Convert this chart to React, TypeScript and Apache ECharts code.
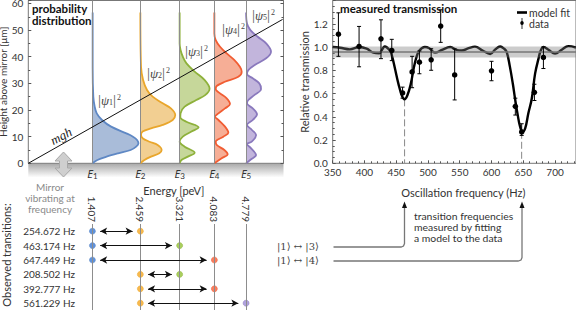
import React, { useEffect, useRef } from "react";
import * as echarts from "echarts";

const FONT = "Lato";
const energies = [1.407, 2.459, 3.321, 4.083, 4.779];
const curveColors = ["#5f88c4", "#e9a62c", "#8eb13b", "#f15d33", "#8a79bd"];
const fillColors = ["#a9bcd9", "#f2cf92", "#c6d79a", "#f6ae96", "#c2b5dc"];
const dotColors = ["#5f92dc", "#f8b94e", "#a9cf5e", "#fb7d5e", "#b0a2de"];

// [height above mirror, probability density drawn as an offset in peV]
const psi1 = [[0,0],[1.25,.11],[2.5,.31],[3.75,.56],[5,.84],[6.25,.96],[7.5,1.01],[8.75,.98],[10,.89],[11.25,.745],[13.75,.41],[16.25,.21],[18.75,.095],[21.25,.05],[25,.02],[36,.005],[56.6,.005]];
const psi2 = [[0,0],[1.25,.09],[2.5,.234],[3.75,.416],[5,.467],[6.9,.38],[8.1,.2],[9.4,.05],[10.6,.015],[11.9,.05],[13.1,.234],[14.4,.49],[16.25,.71],[18.1,.766],[20.6,.67],[22.5,.49],[25,.27],[27.5,.146],[31.25,.06],[36.25,.015],[56.6,0]];
const psi3 = [[0,0],[1.25,.04],[2.5,.18],[4,.33],[6.25,.11],[8.1,0],[10,.07],[11.9,.26],[13.5,.416],[15.6,.146],[17.25,.015],[18.75,.02],[21.25,.11],[23.75,.365],[25.6,.56],[28,.657],[31.25,.55],[34.4,.33],[37.5,.15],[40,.07],[42.5,.02],[45,0],[56.6,0]];
const psi4 = [[0,0],[1.9,.16],[3.4,.292],[5,.219],[6.9,.05],[8.1,.03],[10,.197],[11.5,.307],[13.75,.234],[16.25,.09],[17.5,.015],[18.75,.09],[20.6,.234],[22.25,.343],[24.4,.27],[26.25,.125],[27.75,.03],[29,.05],[30.6,.23],[32.5,.526],[34.4,.6],[36.25,.56],[38.75,.44],[41.25,.27],[43.75,.125],[46.25,.03],[48.75,0],[56.6,0]];
const psi5 = [[0,0],[1.5,.11],[3.1,.22],[5.6,.11],[7.25,.02],[8.1,.124],[10.6,.22],[12.6,.124],[14.4,.02],[16.25,.146],[18.4,.24],[20.6,.146],[22.5,.02],[23.75,.05],[25.6,.18],[27.9,.328],[30,.29],[31.9,.146],[33.5,.02],[35,.05],[36.9,.19],[39.4,.44],[41.9,.547],[45,.44],[47.5,.255],[50,.095],[52.5,.02],[56.6,0]];
const psiCurves = [psi1, psi2, psi3, psi4, psi5];
const potentialLine = [[0, 0], [5.58, 54]];

const transitionLabels = ["254.672 Hz", "463.174 Hz", "647.449 Hz", "208.502 Hz", "392.777 Hz", "561.229 Hz"];
const transitionLevels = [[0, 1], [0, 2], [0, 3], [1, 2], [1, 3], [1, 4]];

const fitLine = [[350,1.0],[361.5,.994],[377,.98],[392,1.0],[403.5,.986],[414,.952],[423,.947],[432,1.005],[440,.97],[443,.93],[448,.815],[453.4,.685],[458.7,.585],[463,.55],[467.6,.585],[473,.685],[478,.83],[482,.915],[486.5,.97],[495,1.0],[502,.99],[511,.952],[522,.975],[535,1.0],[545,.975],[553,.97],[564,.99],[574,1.003],[586,.97],[598,.94],[606,.98],[613.5,1.005],[620,.985],[624,.957],[629,.829],[633.5,.686],[637,.557],[641.3,.414],[645,.314],[648.7,.271],[653,.30],[658,.43],[663.4,.557],[668.6,.771],[674,.90],[677.5,.97],[681.8,1.0],[689.6,.977],[700,.943],[710.6,.977],[721,1.008],[733,.995]];
const dataFreq = [359, 391.5, 426, 443, 460, 475, 486.5, 505, 520, 542, 600, 637.5, 647.5, 667.5, 681.7];
const dataValue = [1.11, 1.005, 1.07, .97, .605, .786, .87, .89, 1.18, .76, .795, .49, .27, .61, .91];
const dataLow = [.92, .83, .90, .883, .56, .65, .77, .80, 1.04, .545, .71, .415, .24, .54, .815];
const dataHigh = [1.294, 1.177, 1.234, 1.066, .655, .92, .966, .985, 1.32, .983, .877, .56, .34, .68, 1.0];
const band = [.909, 1.005];
const bandCenter = .957;
const dipFrequencies = [[463.174, .55], [647.449, .271]];

const ink = "#333";
const psiLabel = (n: number) => `{b||}{p|ψ}{s|${n}}{b||}{u|2}`;
const psiRich = {
  b: { fontFamily: "Liberation Serif", fontSize: 15, fill: "#555", color: "#555" },
  p: { fontFamily: "Liberation Serif", fontStyle: "italic", fontSize: 13, fill: "#444", color: "#444" },
  s: { fontFamily: "Liberation Serif", fontSize: 8, fill: "#444", color: "#444", padding: [5, 0, 0, 0] },
  u: { fontFamily: "Liberation Serif", fontSize: 8, fill: "#444", color: "#444", padding: [0, 0, 6, 1] },
};
const txt = (x: number, y: number, text: string, extra: any = {}) => ({
  type: "text", x, y, silent: true, z: 50,
  style: { text, fontFamily: FONT, fontSize: 11, fill: ink, textVerticalAlign: "middle", verticalAlign: "middle", ...extra },
});
const psiPos = [[98, 100], [147, 73], [185, 51], [222, 29], [252, 15]];

function buildOption() {
  const series: any[] = [];
  psiCurves.forEach((curve, i) => {
    const pts = curve.map(([h, a]) => [energies[i] + a, h]);
    series.push({
      type: "custom", name: `fill${i}`, xAxisIndex: 0, yAxisIndex: 0, data: pts, silent: true, z: 2,
      renderItem: (p: any, api: any) => {
        if (p.dataIndex !== 0) return null as any;
        const poly = pts.map((q) => api.coord(q));
        return { type: "polygon", shape: { points: poly }, style: { fill: fillColors[i] } };
      },
    });
  });
  series.push({
    type: "line", name: "levels", xAxisIndex: 0, yAxisIndex: 0, data: [], silent: true, z: 3,
    markLine: {
      silent: true, symbol: "none", label: { show: false }, animation: false,
      lineStyle: { color: "#8d8d8d", width: 1, type: "solid" },
      data: energies.map((e) => ({ xAxis: e })),
    },
  });
  psiCurves.forEach((curve, i) => {
    series.push({
      type: "line", name: `psi${i + 1}`, xAxisIndex: 0, yAxisIndex: 0, showSymbol: false, symbol: "none", smooth: 0.35, z: 4,
      data: curve.map(([h, a]) => [energies[i] + a, h]),
      lineStyle: { color: curveColors[i], width: 1.8 },
    });
  });
  series.push({
    type: "line", name: "mgh", xAxisIndex: 0, yAxisIndex: 0, showSymbol: false, symbol: "none", z: 5,
    data: potentialLine, lineStyle: { color: "#111", width: 1 },
  });

  // right panel
  series.push({
    type: "line", name: "model fit", xAxisIndex: 1, yAxisIndex: 2, showSymbol: false, symbol: "none", smooth: 0.4, z: 3,
    data: fitLine, lineStyle: { color: "#000", width: 2.4 }, itemStyle: { color: "#000" },
  });
  series.push({
    type: "custom", name: "band", xAxisIndex: 1, yAxisIndex: 2, data: [[350, band[0]]], silent: true, z: 6,
    renderItem: (p: any, api: any) => {
      const a = api.coord([350, band[1]]);
      const b = api.coord([733, band[0]]);
      return { type: "rect", shape: { x: a[0], y: a[1], width: b[0] - a[0], height: b[1] - a[1] }, style: { fill: "rgba(120,120,120,0.38)" } };
    },
  });
  series.push({
    type: "line", name: "center", xAxisIndex: 1, yAxisIndex: 2, showSymbol: false, symbol: "none", z: 7, silent: true,
    data: [[350, bandCenter], [733, bandCenter]], lineStyle: { color: "#777", width: 1.5 },
  });
  dipFrequencies.forEach(([f, v], i) => {
    series.push({
      type: "line", name: `dip${i}`, xAxisIndex: 1, yAxisIndex: 2, showSymbol: false, symbol: "none", z: 2, silent: true,
      data: [[f, v], [f, 0]], lineStyle: { color: "#888", width: 1, type: [7, 3] },
    });
  });
  series.push({
    type: "custom", name: "data", xAxisIndex: 1, yAxisIndex: 2, z: 8, silent: true,
    data: dataFreq.map((f, i) => [f, dataLow[i], dataHigh[i]]),
    encode: { x: 0, y: [1, 2] }, itemStyle: { color: "#000" },
    renderItem: (p: any, api: any) => {
      const f = api.value(0);
      const lo = api.coord([f, api.value(1)]);
      const hi = api.coord([f, api.value(2)]);
      const st = { stroke: "#000", lineWidth: 1, fill: "none" };
      return {
        type: "group",
        children: [
          { type: "line", shape: { x1: lo[0], y1: lo[1], x2: hi[0], y2: hi[1] }, style: st },
          { type: "line", shape: { x1: lo[0] - 2, y1: lo[1], x2: lo[0] + 2, y2: lo[1] }, style: st },
          { type: "line", shape: { x1: hi[0] - 2, y1: hi[1], x2: hi[0] + 2, y2: hi[1] }, style: st },
        ],
      };
    },
  });
  series.push({
    type: "scatter", name: "data", xAxisIndex: 1, yAxisIndex: 2, z: 9, symbolSize: 5.5, silent: true,
    data: dataFreq.map((f, i) => [f, dataValue[i]]), itemStyle: { color: "#000", opacity: 1 },
  });

  // bottom panel
  series.push({
    type: "scatter", name: "levelLines", xAxisIndex: 2, yAxisIndex: 3, data: [], silent: true, z: 1,
    markLine: {
      silent: true, symbol: "none", label: { show: false }, animation: false,
      lineStyle: { color: "#8d8d8d", width: 1, type: "solid" },
      data: energies.map((e) => ({ xAxis: e })),
    },
  });
  const arrowGap = 0.17;
  series.push({
    type: "scatter", name: "arrows", xAxisIndex: 2, yAxisIndex: 3, data: [], silent: true, z: 2,
    markLine: {
      silent: true, symbol: ["arrow", "arrow"], symbolSize: [5.5, 7], label: { show: false }, animation: false,
      lineStyle: { color: "#111", width: 1, type: "solid" },
      data: transitionLevels.map(([a, b], r) => [
        { coord: [energies[a] + arrowGap, transitionLabels[r]] },
        { coord: [energies[b] - arrowGap, transitionLabels[r]] },
      ]),
    },
  });
  [0, 1, 2, 3, 4].forEach((lvl) => {
    const rows: any[] = [];
    transitionLevels.forEach((t, r) => {
      if (t.includes(lvl)) rows.push([energies[lvl], transitionLabels[r]]);
    });
    series.push({
      type: "scatter", name: `dots${lvl}`, xAxisIndex: 2, yAxisIndex: 3, data: rows, symbolSize: 6, z: 4, silent: true,
      itemStyle: { color: dotColors[lvl], borderColor: curveColors[lvl], borderWidth: 0.5, opacity: 1 },
    });
  });

  const axisLabel = { fontFamily: FONT, fontSize: 10, color: ink };
  const tick = (length: number, split: number) => ({
    axisTick: { show: true, inside: true, length, lineStyle: { color: "#555", width: 1 } },
    minorTick: { show: true, splitNumber: split, length: length - 1, lineStyle: { color: "#555", width: 1 } },
  });
  const noSplit = { splitLine: { show: false }, minorSplitLine: { show: false } };

  return {
    animation: false,
    backgroundColor: "#fff",
    textStyle: { fontFamily: FONT },
    legend: {
      orient: "vertical", left: 512, top: 2, itemWidth: 10, itemHeight: 11, itemGap: 0,
      selectedMode: false,
      textStyle: { fontFamily: FONT, fontSize: 10.5, color: ink, padding: [0, 0, 0, -3] },
      data: [
        { name: "model fit", icon: "path://M0 4.2H10V6.8H0z" },
        { name: "data", icon: "path://M4.6 0H5.4V2.9A2.3 2.3 0 0 1 5.4 7.1V11H4.6V7.1A2.3 2.3 0 0 1 4.6 2.9z" },
      ],
    },
    grid: [
      { outerBoundsMode: "none", containLabel: false, left: 28.3, top: 0.5, width: 255.2, height: 162.8, show: true, borderColor: "#777", borderWidth: 1, backgroundColor: "transparent" },
      { outerBoundsMode: "none", containLabel: false, left: 332.7, top: 0.5, width: 243.3, height: 162.8, show: true, borderColor: "#777", borderWidth: 1, backgroundColor: "transparent" },
      { outerBoundsMode: "none", containLabel: false, left: 80, top: 224, width: 204, height: 86.4 },
    ],
    xAxis: [
      {
        type: "value", gridIndex: 0, min: 0, max: 5.6, ...noSplit,
        name: "Energy [peV]", nameLocation: "middle", nameGap: 16,
        nameTextStyle: { fontFamily: FONT, fontSize: 11, color: ink, padding: [0, 0, 0, 36] },
        axisLine: { show: false }, axisTick: { show: false },
        axisLabel: {
          customValues: energies, margin: 4, color: ink,
          formatter: (v: number) => `{e|E}{s|${energies.indexOf(v) + 1}}`,
          rich: {
            e: { fontFamily: "Noto Sans", fontStyle: "italic", fontSize: 11, color: ink },
            s: { fontFamily: FONT, fontSize: 8, color: ink, padding: [5, 0, 0, 0] },
          },
        },
      },
      {
        type: "value", gridIndex: 1, min: 350, max: 733, interval: 50, ...noSplit, ...tick(3, 5),
        name: "Oscillation frequency (Hz)", nameLocation: "middle", nameGap: 24,
        nameTextStyle: { fontFamily: FONT, fontSize: 11, color: ink, padding: [0, 0, 0, 18] },
        axisLine: { show: false },
        axisLabel: { ...axisLabel, margin: 4, showMaxLabel: false },
      },
      {
        type: "value", gridIndex: 2, position: "top", min: 80 / 45.57 - 28.3 / 45.57, max: (284 - 28.3) / 45.57, ...noSplit,
        axisLine: { show: false }, axisTick: { show: false },
        axisLabel: { ...axisLabel, customValues: energies, rotate: 90, margin: 2, formatter: (v: number) => v.toFixed(3) },
      },
    ],
    yAxis: [
      {
        type: "value", gridIndex: 0, min: 0, max: 61.1, interval: 10, ...noSplit, ...tick(3, 2),
        name: "Height above mirror [μm]", nameLocation: "middle", nameGap: 18, nameRotate: 90,
        nameTextStyle: { fontFamily: FONT, fontSize: 10, color: ink },
        axisLine: { show: false },
        axisLabel: { ...axisLabel, margin: 5, showMaxLabel: false },
      },
      {
        type: "value", gridIndex: 0, position: "right", min: 0, max: 61.1, interval: 10, ...noSplit, ...tick(3, 2),
        axisLine: { show: false }, axisLabel: { show: false },
      },
      {
        type: "value", gridIndex: 1, min: 0, max: 1.4, interval: 0.2, ...noSplit, ...tick(3, 4),
        name: "Relative transmission", nameLocation: "middle", nameGap: 23, nameRotate: 90,
        nameTextStyle: { fontFamily: FONT, fontSize: 11, color: ink },
        axisLine: { show: false },
        axisLabel: { ...axisLabel, margin: 5, showMaxLabel: false, formatter: (v: number) => v.toFixed(1) },
      },
      {
        type: "category", gridIndex: 2, inverse: true, data: transitionLabels, ...noSplit,
        axisLine: { show: false }, axisTick: { show: false },
        axisLabel: { ...axisLabel, margin: 5 },
      },
    ],
    series,
    graphic: {
      elements: [
        {
          type: "rect", z: -1, silent: true, shape: { x: 28.3, y: 163.5, width: 255.2, height: 14 },
          style: { fill: new echarts.graphic.LinearGradient(0, 0, 0, 1, [{ offset: 0, color: "#a9a9a9" }, { offset: 1, color: "#ffffff" }]) },
        },
        {
          type: "polygon", z: 40, silent: true,
          shape: { points: [[63.5, 152], [72, 161], [67.5, 161], [67.5, 168], [72, 168], [63.5, 177], [55, 168], [59.5, 168], [59.5, 161], [55, 161]] },
          style: { fill: "#cfcfcf", stroke: "#a8a8a8", lineWidth: 1 },
        },
        txt(32, 8, "probability", { fontWeight: "bold", fontSize: 11.5, fill: "#111" }),
        txt(32, 20, "distribution", { fontWeight: "bold", fontSize: 11.5, fill: "#111" }),
        txt(340, 8, "measured transmission", { fontWeight: "bold", fontSize: 11.5, fill: "#111" }),
        { ...txt(61, 136, "mgh", { fontFamily: "Liberation Serif", fontStyle: "italic", fontSize: 13, fill: "#222", align: "center" }), rotation: 0.48 },
        ...psiPos.map(([x, y], i) => txt(x, y, psiLabel(i + 1), { rich: psiRich })),
        txt(50, 186.7, "Mirror", { fill: "#8a8a8a", align: "center", fontSize: 10 }),
        txt(50, 198, "vibrating at", { fill: "#8a8a8a", align: "center", fontSize: 10 }),
        txt(50, 209.3, "frequency", { fill: "#8a8a8a", align: "center", fontSize: 10 }),
        { ...txt(6, 255, "Observed transitions:", { align: "center" }), rotation: Math.PI / 2 },
        txt(277, 246.5, "|1⟩ ↔ |3⟩", { fontFamily: "DejaVu Serif", fontSize: 10, fill: "#444" }),
        txt(277, 260.5, "|1⟩ ↔ |4⟩", { fontFamily: "DejaVu Serif", fontSize: 10, fill: "#444" }),
        txt(414, 216, "transition frequencies", { fontSize: 10.4 }),
        txt(414, 227, "measured by fitting", { fontSize: 10.4 }),
        txt(414, 238, "a model to the data", { fontSize: 10.4 }),
        {
          type: "polyline", z: 40, silent: true,
          shape: { points: [[333.5, 247], [401, 247], [403.5, 246], [404.5, 243.5], [404.5, 206]] },
          style: { stroke: "#777", lineWidth: 1.3, fill: "none" },
        },
        {
          type: "polyline", z: 40, silent: true,
          shape: { points: [[333.5, 261], [518, 261], [521, 260], [522, 257.5], [522, 206]] },
          style: { stroke: "#777", lineWidth: 1.3, fill: "none" },
        },
        { type: "polygon", z: 41, silent: true, shape: { points: [[404.5, 201.5], [407, 208], [402, 208]] }, style: { fill: "#111" } },
        { type: "polygon", z: 41, silent: true, shape: { points: [[522, 201.5], [524.5, 208], [519.5, 208]] }, style: { fill: "#111" } },
      ],
    },
  };
}

export default function App() {
  const ref = useRef<HTMLDivElement>(null);
  useEffect(() => {
    const chart = echarts.init(ref.current!, undefined, { renderer: "svg" });
    chart.setOption(buildOption() as any);
    return () => chart.dispose();
  }, []);
  return <div ref={ref} style={{ position: "fixed", left: 0, top: 0, width: 576, height: 310 }} />;
}
